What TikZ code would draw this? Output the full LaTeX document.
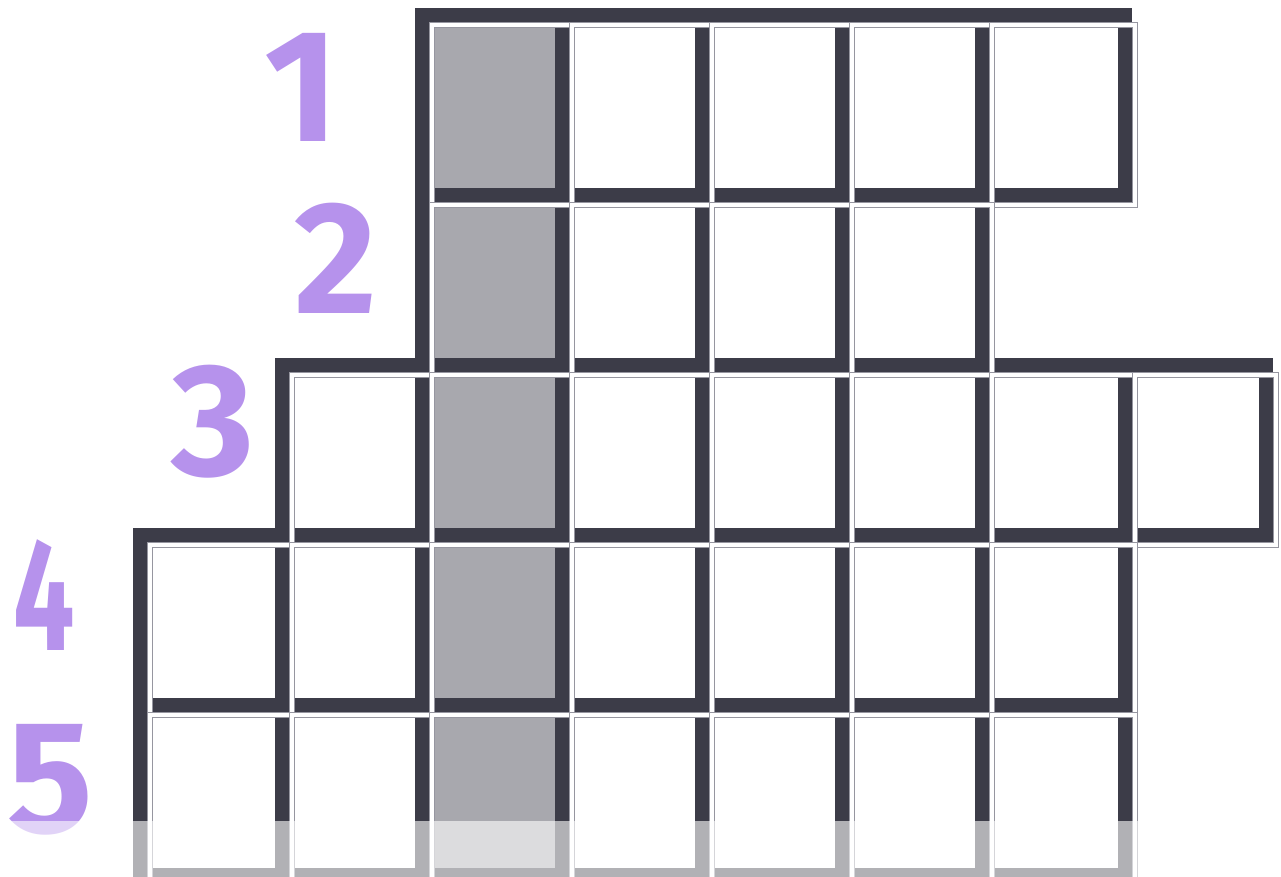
\documentclass[tikz,border=0pt]{standalone}
\usepackage{fontspec}
\newfontfamily\handfont{Fira Sans}
\definecolor{ink}{RGB}{60,60,72}
\definecolor{shade}{RGB}{168,168,174}
\definecolor{thinline}{RGB}{150,150,160}
\definecolor{marker}{RGB}{182,146,236}
\def\colx{{133,275,415,555,695,835,975,1118,1259}}
\def\rowy{{8,188,358,528,698,868}}
\tikzset{
  darkframe/.style={fill=ink},
  plaincell/.style={fill=white},
  shadedcell/.style={fill=shade},
  thinframe/.style={draw=thinline, line width=1.1pt, double=white, double distance=2.3pt},
  digit/.style={text=marker, font=\handfont\bfseries\fontsize{120}{120}\selectfont, inner sep=0pt},
  fade/.style={fill=white, fill opacity=0.6}
}
\begin{document}
\begin{tikzpicture}[x=0.75pt, y=-0.75pt]
\useasboundingbox (0,0) rectangle (1281,877);
\begin{scope}
\clip (0,0) rectangle (1281,877);
% dark frames of every cell
\foreach \r/\a/\b in {0/2/6,1/2/5,2/1/7,3/0/6,4/0/6}{
  \foreach \c in {\a,...,\b}{
    \pgfmathsetmacro\xl{\colx[\c]}
    \pgfmathsetmacro\xr{\colx[\c+1]}
    \pgfmathsetmacro\yt{\rowy[\r]}
    \pgfmathsetmacro\yb{\rowy[\r+1]}
    \fill[darkframe] (\xl,\yt) rectangle (\xr+14,\yb+14);
  }
}
% cell interiors
\foreach \r/\a/\b in {0/2/6,1/2/5,2/1/7,3/0/6,4/0/6}{
  \foreach \c in {\a,...,\b}{
    \pgfmathsetmacro\xl{\colx[\c]}
    \pgfmathsetmacro\xr{\colx[\c+1]}
    \pgfmathsetmacro\yt{\rowy[\r]}
    \pgfmathsetmacro\yb{\rowy[\r+1]}
    \ifnum\c=2
      \fill[shadedcell] (\xl+14,\yt+14) rectangle (\xr,\yb);
    \else
      \fill[plaincell] (\xl+14,\yt+14) rectangle (\xr,\yb);
    \fi
  }
}
% thin double lines
\foreach \r/\a/\b in {0/2/6,1/2/5,2/1/7,3/0/6,4/0/6}{
  \foreach \c in {\a,...,\b}{
    \pgfmathsetmacro\xl{\colx[\c]}
    \pgfmathsetmacro\xr{\colx[\c+1]}
    \pgfmathsetmacro\yt{\rowy[\r]}
    \pgfmathsetmacro\yb{\rowy[\r+1]}
    \draw[thinframe] (\xl+17,\yt+17) rectangle (\xr+17,\yb+17);
  }
}
% row numbers
\node[digit] (n1) at (302,87) {1};
\node[digit] (n2) at (336,258) {2};
\node[digit] (n3) at (213,422) {3};
\node[digit, xscale=0.68] (n4) at (44,595) {4};
\node[digit] (n5) at (50,780) {5};
% washed-out bottom band
\fill[fade] (0,821) rectangle (1281,877);
\end{scope}
\end{tikzpicture}
\end{document}
